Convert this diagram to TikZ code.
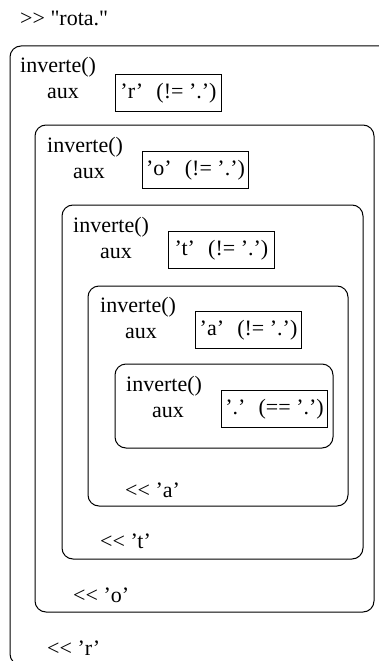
\documentclass[tikz,border=0pt]{standalone}
\usepackage{fontspec}
\setmainfont{Liberation Serif}[Ligatures=TeXOff]

\begin{document}
\begin{tikzpicture}[x=1pt,y=1pt,
  every node/.style={inner sep=0pt,anchor=base west,font=\fontsize{22}{26}\selectfont},
  frame/.style={draw,line width=1pt,rounded corners=11pt},
  valbox/.style={draw,line width=1pt,anchor=north west,minimum width=106pt,minimum height=37pt}]
\clip (0,0) rectangle (379,-661);
\node (cmd) at (20,-26) {>> "rota."};
% chiamate annidate
\draw[frame] (10,-46) rectangle (392,-665);
\draw[frame] (35,-125) rectangle (374,-612);
\draw[frame] (62,-205) rectangle (363,-559);
\draw[frame] (88,-286) rectangle (348,-506);
\draw[frame] (115,-364) rectangle (333,-448);
% livello 1
\node (callR) at (20,-73) {inverte()};
\node (auxR) at (47,-99) {aux};
\node[valbox] (valR) at (115,-74) {’r’\hspace{0.6em}(!=\ ’.’)};
\node (outR) at (47,-655) {<< ’r’};
% livello 2
\node (callO) at (47,-152) {inverte()};
\node (auxO) at (73,-178) {aux};
\node[valbox] (valO) at (142,-151) {’o’\hspace{0.6em}(!=\ ’.’)};
\node (outO) at (73,-602) {<< ’o’};
% livello 3
\node (callT) at (73,-232) {inverte()};
\node (auxT) at (100,-258) {aux};
\node[valbox] (valT) at (168,-231) {’t’\hspace{0.6em}(!=\ ’.’)};
\node (outT) at (100,-548) {<< ’t’};
% livello 4
\node (callA) at (100,-312) {inverte()};
\node (auxA) at (125,-338) {aux};
\node[valbox] (valA) at (195,-311) {’a’\hspace{0.6em}(!=\ ’.’)};
\node (outA) at (125,-497) {<< ’a’};
% livello 5
\node (callP) at (126,-391) {inverte()};
\node (auxP) at (152,-417) {aux};
\node[valbox] (valP) at (221,-390) {’.’\hspace{0.6em}(==\ ’.’)};
\end{tikzpicture}
\end{document}
